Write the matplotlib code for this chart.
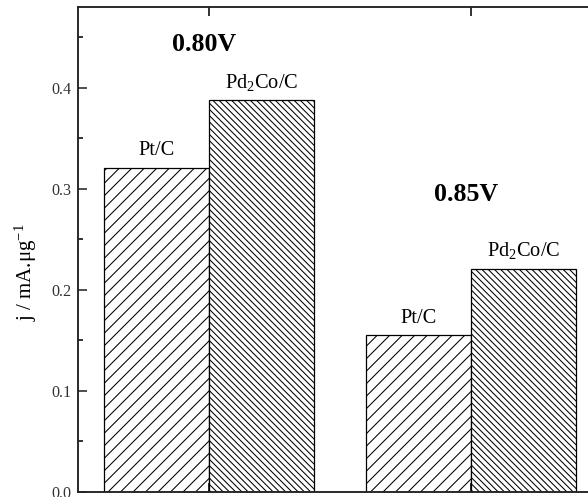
import matplotlib
matplotlib.use("Agg")
import matplotlib.pyplot as plt
import numpy as np

plt.rcParams['font.family'] = ['Liberation Serif', 'DejaVu Serif']
plt.rcParams['mathtext.fontset'] = 'custom'
plt.rcParams['mathtext.rm'] = 'Liberation Serif'
plt.rcParams['mathtext.it'] = 'Liberation Serif:italic'
plt.rcParams['hatch.color'] = '#3a3a3a'
plt.rcParams['hatch.linewidth'] = 1.0

# data
potentials = ['0.80V', '0.85V']
catalysts = ['Pt/C', 'Pd$_2$Co/C']
pt_c = [0.321, 0.155]
pd2co_c = [0.388, 0.221]

fig = plt.figure(figsize=(588 / 75, 497 / 75), dpi=75)
ax = fig.add_axes([78 / 588, 5 / 497, 524 / 588, 485 / 497])

x = np.arange(1, len(potentials) + 1)
w = 0.4
b1 = ax.bar(x - w / 2, pt_c, w, facecolor='white', edgecolor='black',
            linewidth=1.2, hatch='//')
b2 = ax.bar(x + w / 2, pd2co_c, w, facecolor='white', edgecolor='black',
            linewidth=1.2, hatch='\\\\\\\\')

for bars, name in zip([b1, b2], catalysts):
    for r in bars:
        ax.annotate(name, (r.get_x() + r.get_width() / 2, r.get_height()),
                    xytext=(0, 7), textcoords='offset points',
                    ha='center', va='bottom', fontsize=19.5)

label_y = [0.443, 0.294]
for xi, p, ly in zip(x, potentials, label_y):
    ax.text(xi - 0.02, ly, p, ha='center', va='center', fontsize=25,
            fontweight='bold')

ax.set_xlim(0.5, 2.5)
ax.set_ylim(0, 0.48)
ax.set_yticks([0.0, 0.1, 0.2, 0.3, 0.4])
ax.set_yticks(np.arange(0.05, 0.48, 0.1), minor=True)
ax.set_yticklabels(['0.0', '0.1', '0.2', '0.3', '0.4'])
ax.set_xticks(x)
ax.set_xticklabels([])
ax.tick_params(axis='y', which='major', direction='in', length=9, width=1.5,
               labelsize=15.5, pad=6, color='#222', labelcolor='#333')
ax.tick_params(axis='y', which='minor', direction='in', length=5, width=1.5)
ax.tick_params(axis='x', which='major', direction='in', length=9, width=1.5,
               top=True, bottom=True)
for s in ax.spines.values():
    s.set_linewidth(1.8)
    s.set_color('#222')

fig.text(26 / 588, 1 - 272 / 497, 'j / mA.μg$^{-1}$', rotation=90,
         ha='center', va='center', fontsize=20)

fig.savefig('out.png', dpi=75)
